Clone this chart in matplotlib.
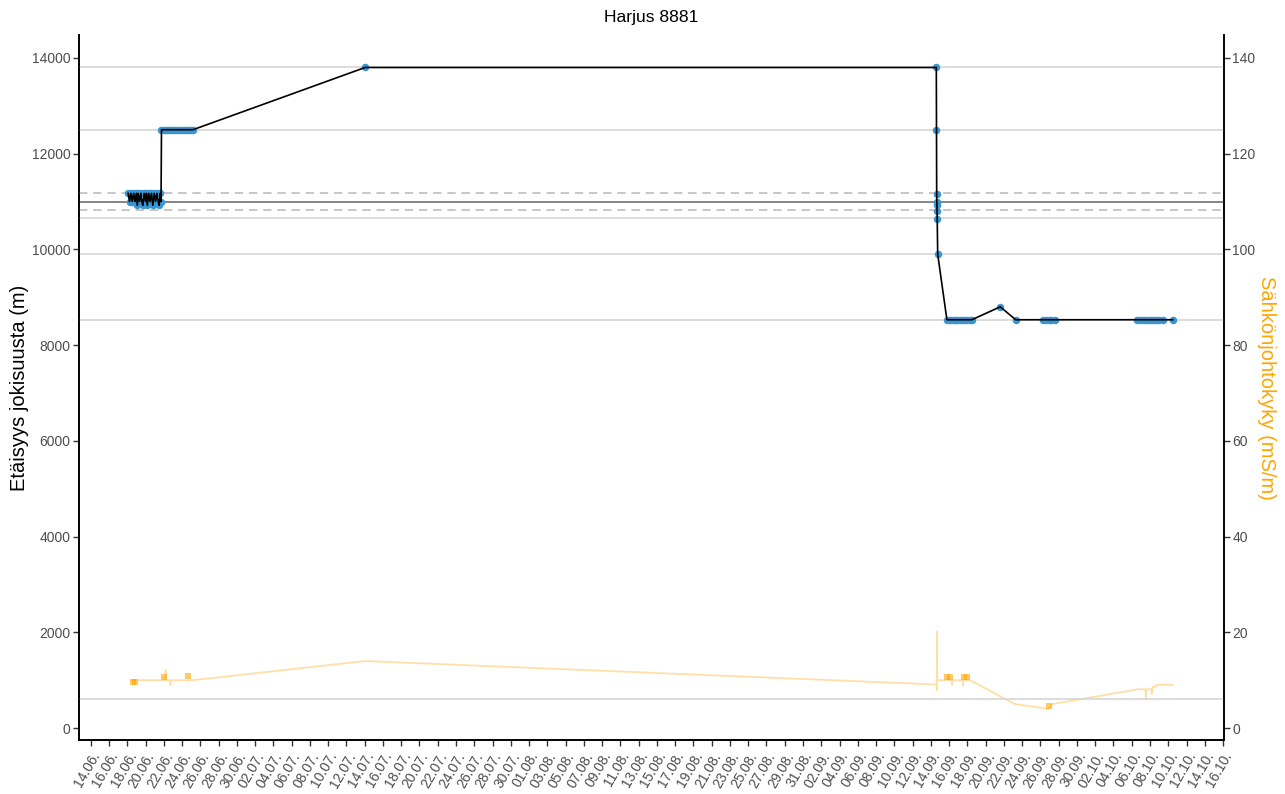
import matplotlib
matplotlib.use('Agg')
import matplotlib.pyplot as plt
import matplotlib.dates as mdates
import pandas as pd
import numpy as np

plt.rcParams['font.family'] = ['Liberation Sans', 'DejaVu Sans']

start = pd.Timestamp('2021-06-14')

# distance from river mouth (m), time as days after 14.06.
dist_days = [4.1, 4.25, 4.4, 4.55, 4.7, 4.85, 5.0, 5.1, 5.2, 5.35,
             5.5, 5.6, 5.7, 5.85, 6.0, 6.1, 6.2, 6.35, 6.5, 6.65,
             6.8, 6.95, 7.1, 7.25, 7.4, 7.5, 7.6, 7.7,
             7.75, 8.0, 8.25, 8.5, 8.75, 9.0, 9.25, 9.5, 9.75, 10.0,
             10.25, 10.5, 10.75, 11.0, 11.2,
             30.05,
             92.6, 92.62, 92.64, 92.66, 92.67, 92.68, 92.7, 92.75,
             93.76, 94.0, 94.25, 94.5, 94.75, 95.0, 95.25, 95.5, 95.75, 96.0, 96.25, 96.49,
             99.6, 101.3,
             104.3, 104.6, 104.9, 105.2, 105.6,
             114.6, 114.9, 115.2, 115.5, 115.8, 116.1, 116.4, 116.7, 117.0, 117.4,
             118.5]
dist_m = [11170, 11000, 11170, 11000, 11170, 11000, 11170, 10920, 11170, 11000,
          11170, 11000, 10920, 11170, 11000, 11170, 10920, 11170, 11000, 11170,
          10920, 11170, 11000, 11170, 11000, 10920, 11170, 11000,
          12500, 12500, 12500, 12500, 12500, 12500, 12500, 12500, 12500, 12500,
          12500, 12500, 12500, 12500, 12500,
          13800,
          13800, 12500, 11150, 11000, 10930, 10800, 10630, 9900,
          8530, 8530, 8530, 8530, 8530, 8530, 8530, 8530, 8530, 8530, 8530, 8530,
          8800, 8530,
          8530, 8530, 8530, 8530, 8530,
          8530, 8530, 8530, 8530, 8530, 8530, 8530, 8530, 8530, 8530,
          8530]

# conductivity (mS/m)
cond_days = [4.5, 7.9, 8.15, 8.2, 8.25, 8.65, 8.7, 8.75, 11.2, 30.05,
             92.6, 92.66, 92.67, 92.7, 93.7, 94.3, 94.32, 94.35, 95.45, 95.5,
             95.55, 96.3, 101.2, 104.9, 105.3, 114.7, 115.5, 115.55, 115.6, 116.15,
             116.2, 116.3, 116.6, 116.65, 116.9, 117.0, 118.5]
cond_ms = [10.0, 10.0, 10.0, 12.1, 10.0, 10.0, 9.0, 10.0, 10.0, 14.0,
           9.1, 7.9, 20.1, 10.0, 10.0, 10.0, 9.0, 10.0, 10.0, 8.9,
           10.0, 10.0, 5.0, 4.0, 5.0, 8.1, 8.1, 6.0, 8.1, 8.1,
           7.1, 8.6, 8.6, 9.0, 8.9, 9.1, 9.0]

# dense conductivity readings
burst_days = [4.6, 4.9, 8.0, 10.66, 93.8, 94.1, 95.6, 95.95, 104.95]
burst_ms = [9.6, 9.6, 10.6, 10.8, 10.6, 10.6, 10.6, 10.6, 4.6]

# reference distances
site_lines = [13800, 12500, 10650, 9900, 8530, 600]
release_line = 11000
release_band = [11170, 10830]

dist_t = start + pd.to_timedelta(dist_days, unit='D')
cond_t = start + pd.to_timedelta(cond_days, unit='D')
burst_t = start + pd.to_timedelta(burst_days, unit='D')

fig = plt.figure(figsize=(12.85, 7.94), dpi=100)
ax = fig.add_axes([0.0615, 0.068, 0.891, 0.888])

for y in site_lines:
    ax.axhline(y, color='#d6d6d6', lw=1.2, zorder=1)
ax.axhline(release_line, color='#707070', lw=1.2, zorder=1)
for y in release_band:
    ax.axhline(y, color='#bdbdbd', lw=1.2, ls=(0, (5, 3.5)), zorder=1)

ax2 = ax.twinx()
ax.set_zorder(ax2.get_zorder() + 1)
ax.patch.set_visible(False)

ax2.plot(cond_t, cond_ms, color='#ffa500', alpha=0.35, lw=1.3)
ax2.plot(burst_t, burst_ms, ls='none', marker='s', markersize=4.2,
         color='#ffa500', alpha=0.6, markeredgewidth=0)

ax.plot(dist_t, dist_m, ls='none', marker='o', markersize=5.4,
        color='#3a96d3', markeredgewidth=0, zorder=3)
ax.plot(dist_t, dist_m, color='black', lw=1.2, zorder=4)

ax.set_ylim(-250, 14480)
ax2.set_ylim(-2.5, 144.8)
ax.set_xlim(start - pd.Timedelta(days=1.28), pd.Timestamp('2021-10-16') + pd.Timedelta(days=0.1))

ax.set_yticks([0, 2000, 4000, 6000, 8000, 10000, 12000, 14000])
ax2.set_yticks([0, 20, 40, 60, 80, 100, 120, 140])

ticks = pd.date_range('2021-06-14', '2021-10-16', freq='2D')
ax.set_xticks(ticks)
ax.xaxis.set_major_formatter(mdates.DateFormatter('%d.%m.'))
plt.setp(ax.get_xticklabels(), rotation=60, ha='right', va='top', rotation_mode='anchor')

for a in (ax, ax2):
    a.spines['top'].set_visible(False)
    for s in ('left', 'right', 'bottom'):
        a.spines[s].set_linewidth(1.2)
        a.spines[s].set_color('black')
    a.tick_params(axis='both', length=4, width=1, color='#333333',
                  labelcolor='#4d4d4d', labelsize=10, pad=2)
ax.tick_params(axis='x', pad=3)

ax.set_ylabel('Etäisyys jokisuusta (m)', fontsize=14.5, color='black', labelpad=2)
ax2.set_ylabel('Sähkönjohtokyky (mS/m)', fontsize=14.5, color='#ffa500',
               rotation=-90, labelpad=15)
ax.set_title('Harjus 8881', fontsize=12.6, pad=9)

fig.savefig('out.png', dpi=100)
